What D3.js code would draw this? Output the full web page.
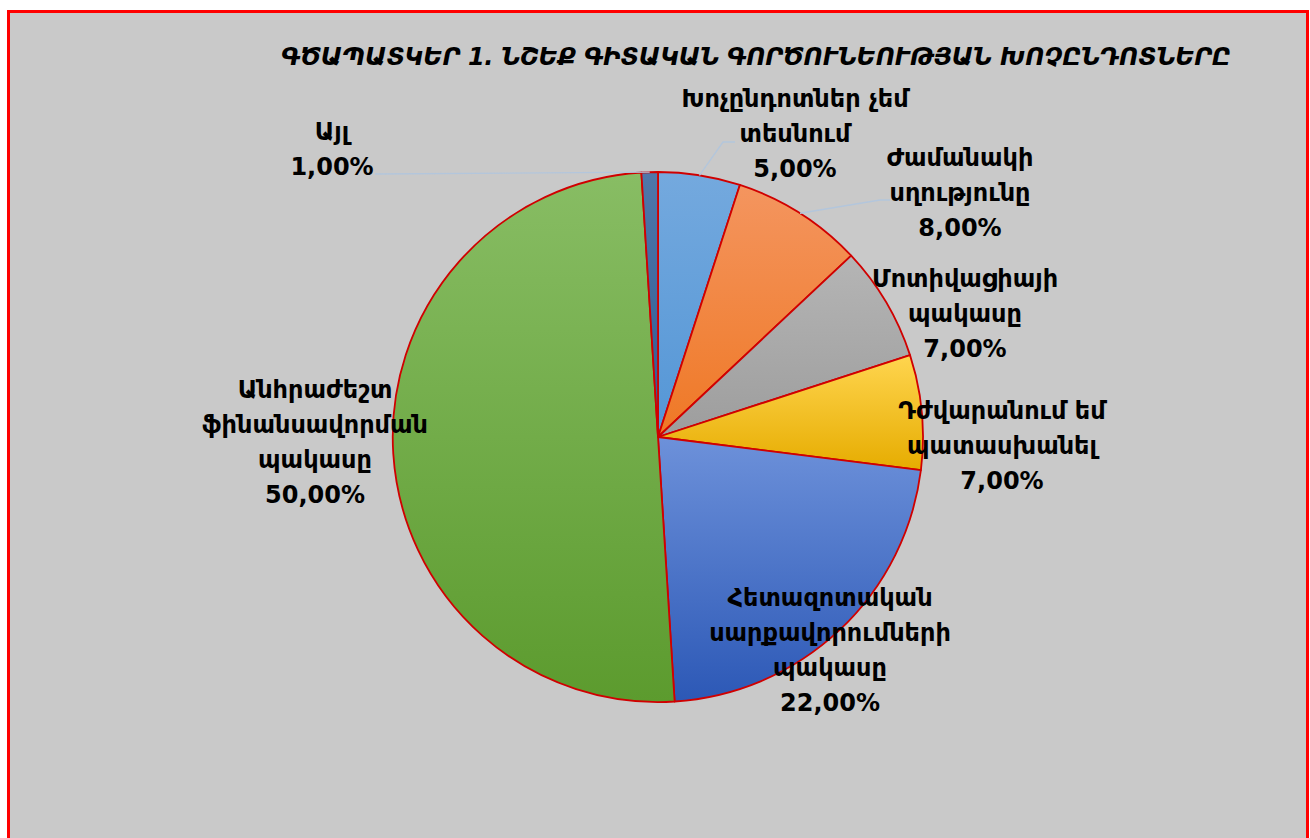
<!DOCTYPE html>
<html>
<head>
<meta charset="utf-8">
<script src="https://cdn.jsdelivr.net/npm/d3@7"></script>
<style>
	body { margin: 0; background: #ffffff; }
	svg text { font-family: "DejaVu Sans", "Noto Sans", sans-serif; }
</style>
</head>
<body>
<div id="pie-div"></div>
<script>
// Chart data, clockwise from 12 o'clock
const categories = [
	"Խոչընդոտներ չեմ տեսնում",
	"Ժամանակի սղությունը",
	"Մոտիվացիայի պակասը",
	"Դժվարանում եմ պատասխանել",
	"Հետազոտական սարքավորումների պակասը",
	"Անհրաժեշտ ֆինանսավորման պակասը",
	"Այլ",
];
const values = [5, 8, 7, 7, 22, 50, 1];
// how each label is broken into lines
const labelLines = [
	["Խոչընդոտներ չեմ", "տեսնում"],
	["Ժամանակի", "սղությունը"],
	["Մոտիվացիայի", "պակասը"],
	["Դժվարանում եմ", "պատասխանել"],
	["Հետազոտական", "սարքավորումների", "պակասը"],
	["Անհրաժեշտ", "ֆինանսավորման", "պակասը"],
	["Այլ"],
];
const chartTitle = "ԳԾԱՊԱՏԿԵՐ 1. ՆՇԵՔ ԳԻՏԱԿԱՆ ԳՈՐԾՈՒՆԵՈՒԹՅԱՆ ԽՈՉԸՆԴՈՏՆԵՐԸ";

class PieChart {
	constructor() {
		this.vizWidth = 1310;
		this.vizHeight = 838;
		this.cx = 658;
		this.cy = 437;
		this.radius = 265;

		// gradient stops per slice (top, bottom)
		this.colors = [
			["#74a9de", "#5496d6"],
			["#f4955f", "#ef7825"],
			["#b5b5b5", "#9d9d9d"],
			["#ffd54f", "#e6ac00"],
			["#6d91da", "#2c58b6"],
			["#88bd64", "#5c9b2e"],
			["#4f77aa", "#2e5b92"],
		];

		// label block centres relative to pie centre, and leader end points
		this.labelPos = [
			{ dx: 137, dy: -304, leader: [[65, -295], [77, -295]] },
			{ dx: 302, dy: -245, leader: [[222, -237], [232, -237]] },
			{ dx: 307, dy: -124 },
			{ dx: 344, dy: 8 },
			{ dx: 172, dy: 212 },
			{ dx: -343, dy: 4 },
			{ dx: -326, dy: -289, leader: [[-283, -263]] },
		];

		this.drawChart();
	}

	drawChart() {
		let svg = d3
			.select("#pie-div")
			.append("svg")
			.attr("width", this.vizWidth)
			.attr("height", this.vizHeight);

		// chart area panel
		svg.append("rect")
			.attr("x", 8.5)
			.attr("y", 11.5)
			.attr("width", 1299)
			.attr("height", 840)
			.attr("fill", "#c9c9c9")
			.attr("stroke", "#ff0000")
			.attr("stroke-width", 3);

		svg.append("text")
			.text(chartTitle)
			.attr("x", 756)
			.attr("y", 65)
			.style("text-anchor", "middle")
			.style("font-size", "24px")
			.style("font-style", "italic")
			.style("font-weight", "bold")
			.attr("textLength", 950)
			.attr("fill", "#000");

		let defs = svg.append("defs");
		this.colors.forEach((c, i) => {
			let grad = defs
				.append("linearGradient")
				.attr("id", "grad" + i)
				.attr("x1", 0)
				.attr("y1", 0)
				.attr("x2", 0)
				.attr("y2", 1);
			grad.append("stop").attr("offset", "0%").attr("stop-color", c[0]);
			grad.append("stop").attr("offset", "100%").attr("stop-color", c[1]);
		});

		const pie = d3.pie().sort(null).value((d) => d);
		const arcs = pie(values);
		const arcGen = d3.arc().innerRadius(0).outerRadius(this.radius);

		let g = svg
			.append("g")
			.attr("transform", `translate(${this.cx}, ${this.cy})`);

		g.selectAll("path.slice")
			.data(arcs)
			.join("path")
			.attr("class", "slice")
			.attr("d", arcGen)
			.attr("fill", (d, i) => `url(#grad${i})`)
			.attr("stroke", "#d00000")
			.style("stroke-width", 1.8)
			.style("stroke-linejoin", "round");

		// leader lines from the arc midpoint
		const r = this.radius;
		arcs.forEach((d, i) => {
			let lp = this.labelPos[i];
			if (!lp.leader) return;
			let mid = (d.startAngle + d.endAngle) / 2;
			let pts = [[r * Math.sin(mid), -r * Math.cos(mid)]].concat(lp.leader);
			g.append("path")
				.attr("d", d3.line()(pts))
				.attr("fill", "none")
				.attr("stroke", "#b3c6dc")
				.style("stroke-width", 1.3);
		});

		// data labels
		const lineH = 35;
		const fmt = (v) => v.toFixed(2).replace(".", ",") + "%";
		arcs.forEach((d, i) => {
			let lp = this.labelPos[i];
			let lines = labelLines[i].concat([fmt(values[i])]);
			let y0 = lp.dy - ((lines.length - 1) * lineH) / 2;
			let t = g
				.append("text")
				.style("text-anchor", "middle")
				.style("font-size", "24px")
				.style("font-weight", "bold")
				.attr("fill", "#000");
			lines.forEach((s, k) => {
				t.append("tspan")
					.attr("x", lp.dx)
					.attr("y", y0 + k * lineH + 9)
					.text(s);
			});
		});
	}
}

new PieChart();
</script>
</body>
</html>
